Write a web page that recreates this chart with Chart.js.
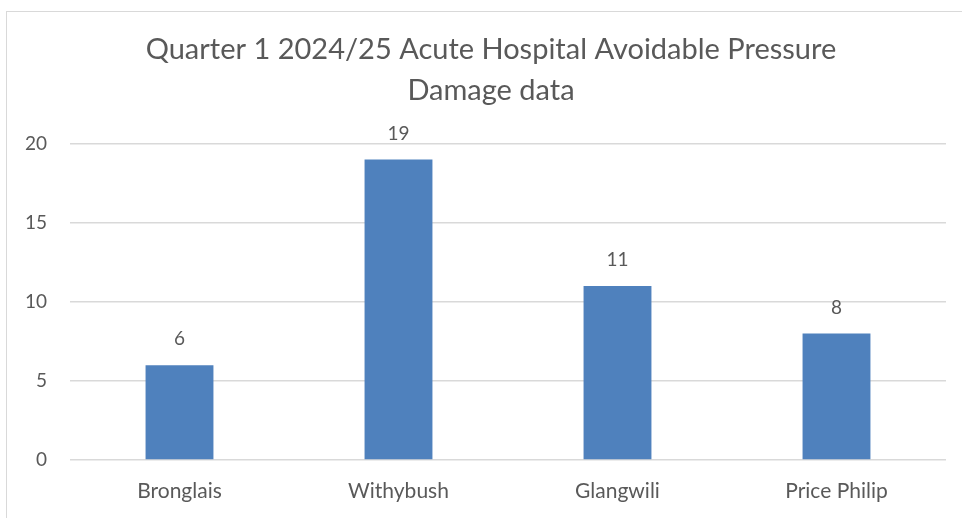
<!DOCTYPE html>
<html>
<head>
<meta charset="utf-8">
<script src="https://cdn.jsdelivr.net/npm/chart.js@4"></script>
<style>
  html, body { margin: 0; padding: 0; background: #fff; overflow: hidden; }
  #frame { position: absolute; left: 6px; top: 11px; width: 1000px; height: 600px; border: 1.5px solid #d9d9d9; }
  #chart { position: absolute; left: 0; top: 0; }
</style>
</head>
<body>
<div id="frame"></div>
<canvas id="chart" width="962" height="518"></canvas>
<script>
const hospitals = ['Bronglais', 'Withybush', 'Glangwili', 'Price Philip'];
const avoidableDamage = [6, 19, 11, 8];
const yTicks = [0, 5, 10, 15, 20];

const FONT = 'Lato, "Open Sans", sans-serif';
const GREY = '#595959';

// draw the value above each bar
const valueLabels = {
  id: 'valueLabels',
  afterDatasetsDraw(chart) {
    const ctx = chart.ctx;
    ctx.save();
    ctx.font = '19px ' + FONT;
    ctx.fillStyle = GREY;
    ctx.textAlign = 'center';
    ctx.textBaseline = 'middle';
    chart.getDatasetMeta(0).data.forEach((bar, i) => {
      ctx.fillText(String(avoidableDamage[i]), bar.x, bar.y - 26);
    });
    ctx.restore();
  }
};

new Chart(document.getElementById('chart').getContext('2d'), {
  type: 'bar',
  data: {
    labels: hospitals,
    datasets: [{
      label: 'Avoidable Pressure Damage',
      data: avoidableDamage,
      backgroundColor: '#4F81BD',
      borderColor: '#4F81BD',
      categoryPercentage: 1,
      barPercentage: 0.31
    }]
  },
  options: {
    responsive: false,
    animation: false,
    devicePixelRatio: 1,
    layout: { padding: { left: 20, right: 0, top: 29, bottom: 0 } },
    plugins: {
      legend: { display: false },
      tooltip: { enabled: false },
      title: {
        display: true,
        text: ['Quarter 1 2024/25 Acute Hospital Avoidable Pressure', 'Damage data'],
        color: GREY,
        font: { family: FONT, size: 29, weight: 'normal', lineHeight: 1.41 },
        padding: { top: 0, bottom: 33 }
      }
    },
    scales: {
      x: {
        grid: { display: false, drawTicks: false },
        border: { display: false },
        afterFit(axis) { axis.height = 58; },
        ticks: { color: GREY, font: { family: FONT, size: 21 }, padding: 19 }
      },
      y: {
        min: 0,
        max: 20,
        afterBuildTicks(axis) { axis.ticks = yTicks.map(v => ({ value: v })); },
        afterFit(axis) { axis.width = 50; },
        grid: { color: '#d9d9d9', lineWidth: 1.5, drawTicks: false },
        border: { display: false },
        ticks: { color: GREY, font: { family: FONT, size: 19 }, padding: 23 }
      },
      // empty right-hand spacer so the plot ends where the reference's does
      yRight: {
        position: 'right',
        display: true,
        grid: { display: false, drawTicks: false },
        border: { display: false },
        ticks: { display: false },
        afterFit(axis) { axis.width = 16; }
      }
    }
  },
  plugins: [valueLabels]
});
</script>
</body>
</html>
